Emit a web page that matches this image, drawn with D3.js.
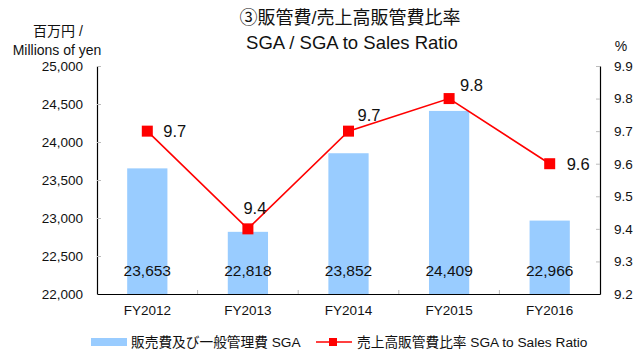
<!DOCTYPE html>
<html>
<head>
<meta charset="utf-8">
<script src="https://cdn.jsdelivr.net/npm/d3@7"></script>
<style>
  html, body { margin: 0; padding: 0; background: #fff; }
  svg { display: block; font-family: "Liberation Sans", Arial, "Noto Sans CJK JP", sans-serif; }
</style>
</head>
<body>
<svg id="chart" width="642" height="356"></svg>
<script>
// Fiscal years and values
const years = ["FY2012", "FY2013", "FY2014", "FY2015", "FY2016"];
const sga = [23653, 22818, 23852, 24409, 22966];          // millions of yen
const sgaRatio = [9.7, 9.4, 9.7, 9.8, 9.6];               // percent
const leftTicks = [22000, 22500, 23000, 23500, 24000, 24500, 25000];
const rightTicks = [9.2, 9.3, 9.4, 9.5, 9.6, 9.7, 9.8, 9.9];

const svg = d3.select("#chart");
const m = { left: 97, right: 600, top: 66, bottom: 294 };
const jp = "'Liberation Sans', Arial, 'Noto Sans CJK JP', sans-serif";

const x = d3.scaleBand().domain(years).range([m.left, m.right]).paddingInner(0).paddingOuter(0);
const yL = d3.scaleLinear().domain([22000, 25000]).range([m.bottom, m.top]);
const yR = d3.scaleLinear().domain([9.2, 9.9]).range([m.bottom, m.top]);

const barW = x.bandwidth() * 0.4;

// Bars
svg.append("g").selectAll("rect").data(sga).join("rect")
  .attr("x", (d, i) => x(years[i]) + x.bandwidth() / 2 - barW / 2)
  .attr("y", d => yL(d))
  .attr("width", barW)
  .attr("height", d => m.bottom - yL(d))
  .attr("fill", "#99ccff");

// Bar value labels
svg.append("g").selectAll("text").data(sga).join("text")
  .attr("x", (d, i) => x(years[i]) + x.bandwidth() / 2)
  .attr("y", 276)
  .attr("text-anchor", "middle")
  .attr("font-size", 15.5)
  .attr("fill", "#111")
  .text(d => d3.format(",")(d));

// Left axis
const axL = svg.append("g").attr("transform", `translate(${m.left},0)`)
  .call(d3.axisLeft(yL).tickValues(leftTicks).tickFormat(d3.format(",")).tickSizeInner(-4).tickSizeOuter(0).tickPadding(14));
axL.select(".domain").attr("stroke", "#000").attr("stroke-width", 1.2);
axL.selectAll(".tick line").attr("stroke", "#bbb");
axL.selectAll(".tick text").attr("font-size", 13.5).attr("fill", "#111").attr("font-family", jp);

// Right axis
const axR = svg.append("g").attr("transform", `translate(${m.right},0)`)
  .call(d3.axisRight(yR).tickValues(rightTicks).tickFormat(d3.format(".1f")).tickSizeInner(-4).tickSizeOuter(0).tickPadding(14));
axR.select(".domain").attr("stroke", "#000").attr("stroke-width", 1.2);
axR.selectAll(".tick line").attr("stroke", "#bbb");
axR.selectAll(".tick text").attr("font-size", 13.5).attr("fill", "#111").attr("font-family", jp);

// Bottom axis
const axB = svg.append("g").attr("transform", `translate(0,${m.bottom})`)
  .call(d3.axisBottom(x).tickSize(0).tickPadding(11));
axB.select(".domain").attr("stroke", "#000").attr("stroke-width", 1.2);
axB.selectAll(".tick text").attr("font-size", 13.5).attr("fill", "#111").attr("font-family", jp);
// Category separators
svg.append("g").selectAll("line").data(years.slice(1)).join("line")
  .attr("x1", d => x(d)).attr("x2", d => x(d))
  .attr("y1", m.bottom).attr("y2", m.bottom - 4)
  .attr("stroke", "#bbb");

// Ratio line
const cx = (d, i) => x(years[i]) + x.bandwidth() / 2;
svg.append("path").datum(sgaRatio)
  .attr("fill", "none").attr("stroke", "#ff0000").attr("stroke-width", 1.6)
  .attr("d", d3.line().x(cx).y(d => yR(d)));
svg.append("g").selectAll("rect").data(sgaRatio).join("rect")
  .attr("x", (d, i) => cx(d, i) - 5.5).attr("y", d => yR(d) - 5.5)
  .attr("width", 11).attr("height", 11).attr("fill", "#ff0000");

// Ratio labels: [dx, baseline dy, anchor]
const lblOff = [[16, 6, "start"], [7, -15, "middle"], [9, -10, "start"], [11, -8, "start"], [17, 6, "start"]];
svg.append("g").selectAll("text").data(sgaRatio).join("text")
  .attr("x", (d, i) => cx(d, i) + lblOff[i][0])
  .attr("y", (d, i) => yR(d) + lblOff[i][1])
  .attr("text-anchor", (d, i) => lblOff[i][2])
  .attr("font-size", 16.5)
  .attr("fill", "#111")
  .text(d => d.toFixed(1));

// Titles
svg.append("text").attr("x", 350).attr("y", 24).attr("text-anchor", "middle")
  .attr("font-size", 18).attr("fill", "#111").attr("font-family", jp).text("③販管費/売上高販管費比率");
svg.append("text").attr("x", 352).attr("y", 49).attr("text-anchor", "middle")
  .attr("font-size", 18.5).attr("fill", "#111").text("SGA / SGA to Sales Ratio");

// Axis titles
svg.append("text").attr("x", 58).attr("y", 36).attr("text-anchor", "middle")
  .attr("font-size", 14).attr("fill", "#111").attr("font-family", jp).text("百万円 /");
svg.append("text").attr("x", 57).attr("y", 55).attr("text-anchor", "middle")
  .attr("font-size", 14).attr("fill", "#111").text("Millions of yen");
svg.append("text").attr("x", 621).attr("y", 51).attr("text-anchor", "middle")
  .attr("font-size", 14).attr("fill", "#111").text("%");

// Legend
const lg = svg.append("g");
lg.append("rect").attr("x", 91).attr("y", 338).attr("width", 36).attr("height", 8).attr("fill", "#99ccff");
lg.append("text").attr("x", 131).attr("y", 347).attr("font-size", 13.7).attr("fill", "#111")
  .attr("font-family", jp).text("販売費及び一般管理費 SGA");
lg.append("line").attr("x1", 316).attr("x2", 352).attr("y1", 342).attr("y2", 342)
  .attr("stroke", "#ff0000").attr("stroke-width", 1.6);
lg.append("rect").attr("x", 329).attr("y", 338).attr("width", 8).attr("height", 8).attr("fill", "#ff0000");
lg.append("text").attr("x", 357).attr("y", 347).attr("font-size", 13.7).attr("fill", "#111")
  .attr("font-family", jp).text("売上高販管費比率 SGA to Sales Ratio");
</script>
</body>
</html>
